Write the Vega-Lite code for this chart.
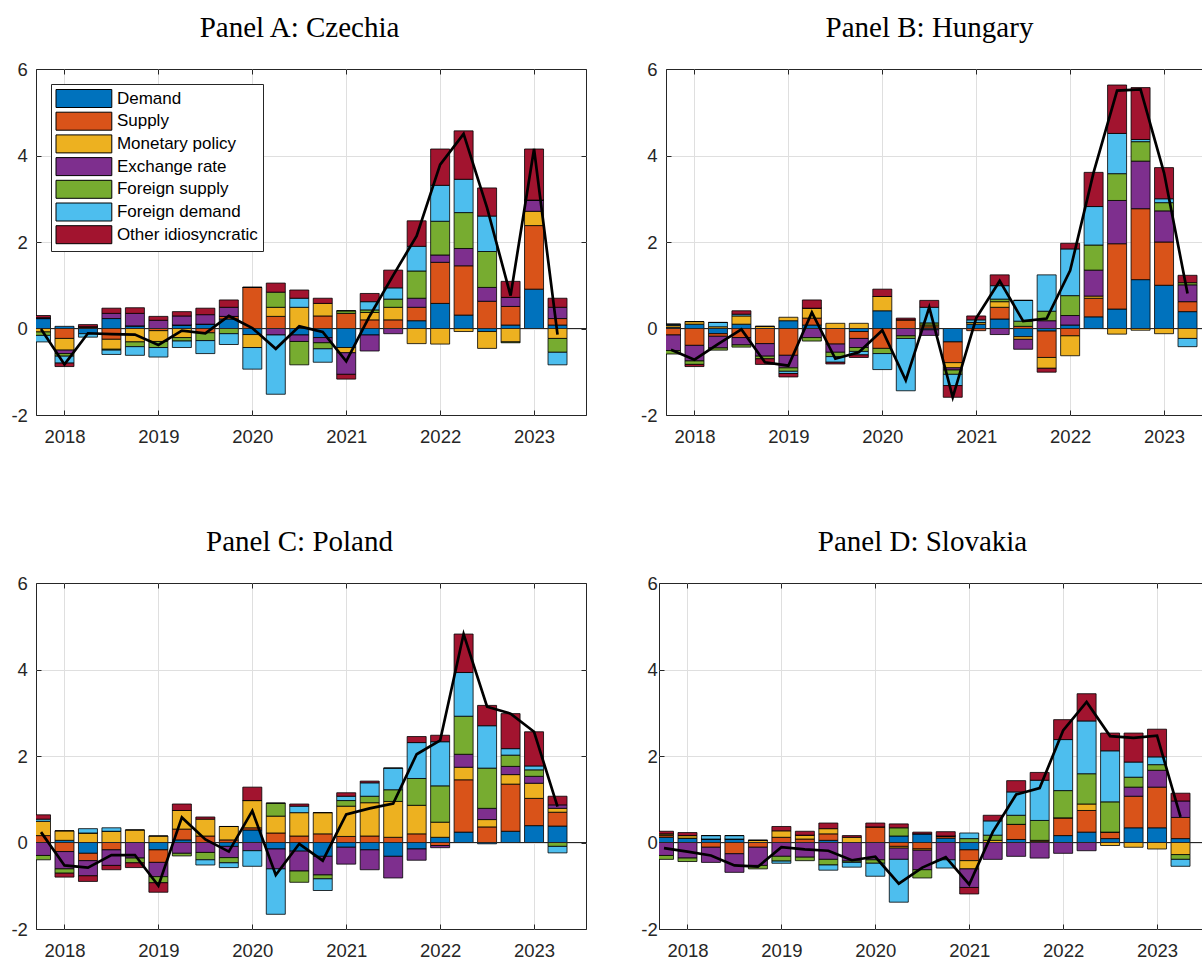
{
  "$schema": "https://vega.github.io/schema/vega-lite/v6.json",
  "padding": {"left": 10, "top": 13, "right": 0, "bottom": 0},
  "background": "white",
  "datasets": {
    "A": [
      {"t": 2017.75, "Demand": 0.23, "Supply": 0, "Monetary policy": -0.08, "Exchange rate": 0.02, "Foreign supply": -0.08, "Foreign demand": -0.15, "Other idiosyncratic": 0.05},
      {"t": 2018.0, "Demand": 0.05, "Supply": -0.23, "Monetary policy": -0.27, "Exchange rate": -0.08, "Foreign supply": -0.06, "Foreign demand": -0.16, "Other idiosyncratic": -0.08},
      {"t": 2018.25, "Demand": -0.12, "Supply": 0.04, "Monetary policy": 0, "Exchange rate": 0, "Foreign supply": 0, "Foreign demand": -0.08, "Other idiosyncratic": 0.05},
      {"t": 2018.5, "Demand": 0.23, "Supply": -0.25, "Monetary policy": -0.23, "Exchange rate": 0.12, "Foreign supply": -0.02, "Foreign demand": -0.1, "Other idiosyncratic": 0.12},
      {"t": 2018.75, "Demand": 0.06, "Supply": 0, "Monetary policy": -0.31, "Exchange rate": 0.29, "Foreign supply": -0.11, "Foreign demand": -0.2, "Other idiosyncratic": 0.13},
      {"t": 2019.0, "Demand": 0, "Supply": -0.05, "Monetary policy": -0.25, "Exchange rate": 0.19, "Foreign supply": -0.14, "Foreign demand": -0.22, "Other idiosyncratic": 0.09},
      {"t": 2019.25, "Demand": 0.08, "Supply": 0, "Monetary policy": -0.21, "Exchange rate": 0.21, "Foreign supply": -0.08, "Foreign demand": -0.15, "Other idiosyncratic": 0.1},
      {"t": 2019.5, "Demand": 0.1, "Supply": -0.1, "Monetary policy": 0, "Exchange rate": 0.22, "Foreign supply": -0.18, "Foreign demand": -0.3, "Other idiosyncratic": 0.15},
      {"t": 2019.75, "Demand": 0.22, "Supply": 0.06, "Monetary policy": 0, "Exchange rate": 0.21, "Foreign supply": -0.12, "Foreign demand": -0.25, "Other idiosyncratic": 0.17},
      {"t": 2020.0, "Demand": -0.14, "Supply": 0.95, "Monetary policy": -0.3, "Exchange rate": 0, "Foreign supply": 0, "Foreign demand": -0.5, "Other idiosyncratic": 0},
      {"t": 2020.25, "Demand": 0, "Supply": 0.28, "Monetary policy": 0.21, "Exchange rate": -0.15, "Foreign supply": 0.35, "Foreign demand": -1.37, "Other idiosyncratic": 0.21},
      {"t": 2020.5, "Demand": -0.15, "Supply": 0, "Monetary policy": 0.49, "Exchange rate": -0.15, "Foreign supply": -0.54, "Foreign demand": 0.21, "Other idiosyncratic": 0.19},
      {"t": 2020.75, "Demand": -0.21, "Supply": 0.29, "Monetary policy": 0.29, "Exchange rate": -0.12, "Foreign supply": -0.14, "Foreign demand": -0.31, "Other idiosyncratic": 0.12},
      {"t": 2021.0, "Demand": -0.44, "Supply": 0.35, "Monetary policy": -0.12, "Exchange rate": -0.5, "Foreign supply": 0.06, "Foreign demand": 0, "Other idiosyncratic": -0.11},
      {"t": 2021.25, "Demand": -0.15, "Supply": 0.2, "Monetary policy": 0.17, "Exchange rate": -0.37, "Foreign supply": 0.06, "Foreign demand": 0.19, "Other idiosyncratic": 0.19},
      {"t": 2021.5, "Demand": 0, "Supply": 0.2, "Monetary policy": 0.29, "Exchange rate": -0.12, "Foreign supply": 0.19, "Foreign demand": 0.26, "Other idiosyncratic": 0.41},
      {"t": 2021.75, "Demand": 0.18, "Supply": 0.31, "Monetary policy": -0.35, "Exchange rate": 0.21, "Foreign supply": 0.63, "Foreign demand": 0.57, "Other idiosyncratic": 0.59},
      {"t": 2022.0, "Demand": 0.58, "Supply": 0.95, "Monetary policy": -0.36, "Exchange rate": 0.17, "Foreign supply": 0.78, "Foreign demand": 0.83, "Other idiosyncratic": 0.84},
      {"t": 2022.25, "Demand": 0.31, "Supply": 1.14, "Monetary policy": -0.07, "Exchange rate": 0.4, "Foreign supply": 0.83, "Foreign demand": 0.77, "Other idiosyncratic": 1.12},
      {"t": 2022.5, "Demand": -0.07, "Supply": 0.63, "Monetary policy": -0.39, "Exchange rate": 0.32, "Foreign supply": 0.83, "Foreign demand": 0.82, "Other idiosyncratic": 0.65},
      {"t": 2022.75, "Demand": 0.08, "Supply": 0.43, "Monetary policy": -0.31, "Exchange rate": 0.21, "Foreign supply": -0.02, "Foreign demand": 0, "Other idiosyncratic": 0.37},
      {"t": 2023.0, "Demand": 0.91, "Supply": 1.47, "Monetary policy": 0.33, "Exchange rate": 0.26, "Foreign supply": 0, "Foreign demand": 0, "Other idiosyncratic": 1.18},
      {"t": 2023.25, "Demand": 0.08, "Supply": 0.15, "Monetary policy": -0.23, "Exchange rate": 0.26, "Foreign supply": -0.32, "Foreign demand": -0.29, "Other idiosyncratic": 0.21}
    ],
    "B": [
      {"t": 2017.75, "Demand": 0.03, "Supply": -0.15, "Monetary policy": 0.04, "Exchange rate": -0.36, "Foreign supply": -0.08, "Foreign demand": 0.03, "Other idiosyncratic": 0},
      {"t": 2018.0, "Demand": 0.1, "Supply": -0.39, "Monetary policy": 0.06, "Exchange rate": -0.36, "Foreign supply": -0.08, "Foreign demand": 0, "Other idiosyncratic": -0.05},
      {"t": 2018.25, "Demand": -0.12, "Supply": -0.06, "Monetary policy": 0.04, "Exchange rate": -0.27, "Foreign supply": -0.05, "Foreign demand": 0.1, "Other idiosyncratic": 0},
      {"t": 2018.5, "Demand": 0.1, "Supply": -0.21, "Monetary policy": 0.19, "Exchange rate": -0.17, "Foreign supply": -0.05, "Foreign demand": 0.04, "Other idiosyncratic": 0.08},
      {"t": 2018.75, "Demand": 0, "Supply": -0.35, "Monetary policy": 0.05, "Exchange rate": -0.29, "Foreign supply": -0.06, "Foreign demand": 0, "Other idiosyncratic": -0.13},
      {"t": 2019.0, "Demand": 0.18, "Supply": -0.62, "Monetary policy": 0.08, "Exchange rate": -0.29, "Foreign supply": -0.08, "Foreign demand": -0.05, "Other idiosyncratic": -0.08},
      {"t": 2019.25, "Demand": 0.08, "Supply": 0.16, "Monetary policy": 0.23, "Exchange rate": -0.21, "Foreign supply": -0.08, "Foreign demand": 0, "Other idiosyncratic": 0.19},
      {"t": 2019.5, "Demand": 0, "Supply": -0.36, "Monetary policy": 0.12, "Exchange rate": -0.19, "Foreign supply": -0.1, "Foreign demand": -0.13, "Other idiosyncratic": -0.04},
      {"t": 2019.75, "Demand": -0.07, "Supply": -0.16, "Monetary policy": 0.12, "Exchange rate": -0.21, "Foreign supply": -0.09, "Foreign demand": -0.08, "Other idiosyncratic": -0.06},
      {"t": 2020.0, "Demand": 0.41, "Supply": -0.46, "Monetary policy": 0.33, "Exchange rate": 0, "Foreign supply": -0.12, "Foreign demand": -0.37, "Other idiosyncratic": 0.17},
      {"t": 2020.25, "Demand": 0, "Supply": 0.2, "Monetary policy": 0, "Exchange rate": -0.17, "Foreign supply": -0.06, "Foreign demand": -1.21, "Other idiosyncratic": 0.04},
      {"t": 2020.5, "Demand": -0.03, "Supply": 0.04, "Monetary policy": 0.04, "Exchange rate": -0.13, "Foreign supply": 0.05, "Foreign demand": 0.36, "Other idiosyncratic": 0.16},
      {"t": 2020.75, "Demand": -0.31, "Supply": -0.48, "Monetary policy": -0.12, "Exchange rate": -0.05, "Foreign supply": -0.1, "Foreign demand": -0.26, "Other idiosyncratic": -0.27},
      {"t": 2021.0, "Demand": 0.1, "Supply": -0.05, "Monetary policy": 0.04, "Exchange rate": 0, "Foreign supply": 0, "Foreign demand": 0.06, "Other idiosyncratic": 0.09},
      {"t": 2021.25, "Demand": 0.22, "Supply": 0.27, "Monetary policy": 0.13, "Exchange rate": -0.14, "Foreign supply": 0.06, "Foreign demand": 0.31, "Other idiosyncratic": 0.25},
      {"t": 2021.5, "Demand": -0.19, "Supply": 0.05, "Monetary policy": -0.06, "Exchange rate": -0.23, "Foreign supply": 0.12, "Foreign demand": 0.48, "Other idiosyncratic": 0},
      {"t": 2021.75, "Demand": -0.06, "Supply": -0.61, "Monetary policy": -0.25, "Exchange rate": 0.18, "Foreign supply": 0.22, "Foreign demand": 0.84, "Other idiosyncratic": -0.09},
      {"t": 2022.0, "Demand": 0.08, "Supply": -0.17, "Monetary policy": -0.46, "Exchange rate": 0.22, "Foreign supply": 0.46, "Foreign demand": 1.08, "Other idiosyncratic": 0.13},
      {"t": 2022.25, "Demand": 0.27, "Supply": 0.43, "Monetary policy": 0.05, "Exchange rate": 0.6, "Foreign supply": 0.58, "Foreign demand": 0.89, "Other idiosyncratic": 0.79},
      {"t": 2022.5, "Demand": 0.45, "Supply": 1.51, "Monetary policy": -0.13, "Exchange rate": 1.0, "Foreign supply": 0.62, "Foreign demand": 0.93, "Other idiosyncratic": 1.12},
      {"t": 2022.75, "Demand": 1.13, "Supply": 1.64, "Monetary policy": -0.04, "Exchange rate": 1.1, "Foreign supply": 0.45, "Foreign demand": 0.05, "Other idiosyncratic": 1.2},
      {"t": 2023.0, "Demand": 1.0, "Supply": 1.0, "Monetary policy": -0.12, "Exchange rate": 0.72, "Foreign supply": 0.19, "Foreign demand": 0.09, "Other idiosyncratic": 0.72},
      {"t": 2023.25, "Demand": 0.39, "Supply": 0.23, "Monetary policy": -0.23, "Exchange rate": 0.39, "Foreign supply": 0.05, "Foreign demand": -0.19, "Other idiosyncratic": 0.17}
    ],
    "C": [
      {"t": 2017.75, "Demand": 0, "Supply": 0.16, "Monetary policy": 0.33, "Exchange rate": -0.3, "Foreign supply": -0.1, "Foreign demand": 0.05, "Other idiosyncratic": 0.1},
      {"t": 2018.0, "Demand": 0.05, "Supply": -0.21, "Monetary policy": 0.22, "Exchange rate": -0.4, "Foreign supply": -0.1, "Foreign demand": 0, "Other idiosyncratic": -0.09},
      {"t": 2018.25, "Demand": -0.25, "Supply": -0.17, "Monetary policy": 0.22, "Exchange rate": -0.35, "Foreign supply": 0, "Foreign demand": 0.1, "Other idiosyncratic": -0.13},
      {"t": 2018.5, "Demand": 0, "Supply": -0.17, "Monetary policy": 0.26, "Exchange rate": -0.36, "Foreign supply": 0, "Foreign demand": 0.08, "Other idiosyncratic": -0.1},
      {"t": 2018.75, "Demand": 0, "Supply": 0, "Monetary policy": 0.29, "Exchange rate": -0.36, "Foreign supply": -0.11, "Foreign demand": 0, "Other idiosyncratic": -0.11},
      {"t": 2019.0, "Demand": -0.17, "Supply": -0.29, "Monetary policy": 0.15, "Exchange rate": -0.33, "Foreign supply": -0.14, "Foreign demand": 0, "Other idiosyncratic": -0.22},
      {"t": 2019.25, "Demand": 0.06, "Supply": 0.25, "Monetary policy": 0.43, "Exchange rate": -0.25, "Foreign supply": -0.06, "Foreign demand": 0, "Other idiosyncratic": 0.15},
      {"t": 2019.5, "Demand": 0, "Supply": 0.15, "Monetary policy": 0.39, "Exchange rate": -0.23, "Foreign supply": -0.17, "Foreign demand": -0.12, "Other idiosyncratic": 0.05},
      {"t": 2019.75, "Demand": -0.09, "Supply": 0.06, "Monetary policy": 0.31, "Exchange rate": -0.26, "Foreign supply": -0.12, "Foreign demand": -0.11, "Other idiosyncratic": 0},
      {"t": 2020.0, "Demand": 0.29, "Supply": 0.05, "Monetary policy": 0.63, "Exchange rate": -0.19, "Foreign supply": 0, "Foreign demand": -0.36, "Other idiosyncratic": 0.31},
      {"t": 2020.25, "Demand": -0.15, "Supply": 0.22, "Monetary policy": 0.39, "Exchange rate": -0.46, "Foreign supply": 0.3, "Foreign demand": -1.05, "Other idiosyncratic": 0},
      {"t": 2020.5, "Demand": -0.2, "Supply": 0.15, "Monetary policy": 0.54, "Exchange rate": -0.46, "Foreign supply": -0.26, "Foreign demand": 0.15, "Other idiosyncratic": 0.05},
      {"t": 2020.75, "Demand": -0.32, "Supply": 0.2, "Monetary policy": 0.49, "Exchange rate": -0.43, "Foreign supply": -0.09, "Foreign demand": -0.27, "Other idiosyncratic": 0},
      {"t": 2021.0, "Demand": -0.11, "Supply": 0.14, "Monetary policy": 0.7, "Exchange rate": -0.39, "Foreign supply": 0.13, "Foreign demand": 0.1, "Other idiosyncratic": 0.08},
      {"t": 2021.25, "Demand": -0.17, "Supply": 0.15, "Monetary policy": 0.77, "Exchange rate": -0.46, "Foreign supply": 0.15, "Foreign demand": 0.31, "Other idiosyncratic": 0.04},
      {"t": 2021.5, "Demand": -0.32, "Supply": 0.12, "Monetary policy": 0.83, "Exchange rate": -0.5, "Foreign supply": 0.27, "Foreign demand": 0.5, "Other idiosyncratic": 0},
      {"t": 2021.75, "Demand": -0.15, "Supply": 0.2, "Monetary policy": 0.66, "Exchange rate": -0.26, "Foreign supply": 0.62, "Foreign demand": 0.83, "Other idiosyncratic": 0.14},
      {"t": 2022.0, "Demand": 0.12, "Supply": -0.07, "Monetary policy": 0.35, "Exchange rate": -0.05, "Foreign supply": 0.84, "Foreign demand": 1.02, "Other idiosyncratic": 0.15},
      {"t": 2022.25, "Demand": 0.24, "Supply": 1.21, "Monetary policy": 0.29, "Exchange rate": 0.3, "Foreign supply": 0.88, "Foreign demand": 1.01, "Other idiosyncratic": 0.89},
      {"t": 2022.5, "Demand": -0.03, "Supply": 0.36, "Monetary policy": 0.17, "Exchange rate": 0.26, "Foreign supply": 0.93, "Foreign demand": 0.98, "Other idiosyncratic": 0.47},
      {"t": 2022.75, "Demand": 0.26, "Supply": 1.09, "Monetary policy": 0.22, "Exchange rate": 0.19, "Foreign supply": 0.26, "Foreign demand": 0.15, "Other idiosyncratic": 0.81},
      {"t": 2023.0, "Demand": 0.39, "Supply": 0.63, "Monetary policy": 0.35, "Exchange rate": 0.16, "Foreign supply": 0.15, "Foreign demand": 0.09, "Other idiosyncratic": 0.79},
      {"t": 2023.25, "Demand": 0.38, "Supply": 0.32, "Monetary policy": 0.09, "Exchange rate": 0.08, "Foreign supply": -0.09, "Foreign demand": -0.15, "Other idiosyncratic": 0.2}
    ],
    "D": [
      {"t": 2017.75, "Demand": 0.12, "Supply": 0.04, "Monetary policy": 0.04, "Exchange rate": -0.3, "Foreign supply": -0.09, "Foreign demand": 0, "Other idiosyncratic": 0.06},
      {"t": 2018.0, "Demand": 0.1, "Supply": 0, "Monetary policy": 0.06, "Exchange rate": -0.36, "Foreign supply": -0.08, "Foreign demand": 0, "Other idiosyncratic": 0.07},
      {"t": 2018.25, "Demand": 0.08, "Supply": -0.11, "Monetary policy": 0, "Exchange rate": -0.35, "Foreign supply": 0, "Foreign demand": 0.08, "Other idiosyncratic": 0},
      {"t": 2018.5, "Demand": 0.08, "Supply": -0.26, "Monetary policy": 0, "Exchange rate": -0.43, "Foreign supply": 0, "Foreign demand": 0.08, "Other idiosyncratic": 0},
      {"t": 2018.75, "Demand": 0, "Supply": -0.11, "Monetary policy": 0.05, "Exchange rate": -0.42, "Foreign supply": -0.08, "Foreign demand": 0, "Other idiosyncratic": 0},
      {"t": 2019.0, "Demand": 0, "Supply": 0.12, "Monetary policy": 0.15, "Exchange rate": -0.32, "Foreign supply": -0.11, "Foreign demand": -0.05, "Other idiosyncratic": 0.1},
      {"t": 2019.25, "Demand": 0, "Supply": 0.08, "Monetary policy": 0.09, "Exchange rate": -0.34, "Foreign supply": -0.08, "Foreign demand": 0, "Other idiosyncratic": 0.09},
      {"t": 2019.5, "Demand": 0.05, "Supply": 0.15, "Monetary policy": 0.12, "Exchange rate": -0.39, "Foreign supply": -0.13, "Foreign demand": -0.12, "Other idiosyncratic": 0.13},
      {"t": 2019.75, "Demand": 0, "Supply": 0, "Monetary policy": 0.12, "Exchange rate": -0.43, "Foreign supply": -0.03, "Foreign demand": -0.11, "Other idiosyncratic": 0.04},
      {"t": 2020.0, "Demand": 0, "Supply": 0.36, "Monetary policy": 0, "Exchange rate": -0.4, "Foreign supply": -0.08, "Foreign demand": -0.3, "Other idiosyncratic": 0.09},
      {"t": 2020.25, "Demand": 0.15, "Supply": -0.09, "Monetary policy": -0.04, "Exchange rate": -0.26, "Foreign supply": 0.19, "Foreign demand": -0.99, "Other idiosyncratic": 0.09},
      {"t": 2020.5, "Demand": 0.2, "Supply": -0.15, "Monetary policy": -0.03, "Exchange rate": -0.45, "Foreign supply": -0.19, "Foreign demand": 0, "Other idiosyncratic": 0.04},
      {"t": 2020.75, "Demand": 0.1, "Supply": 0.05, "Monetary policy": 0, "Exchange rate": -0.4, "Foreign supply": 0, "Foreign demand": -0.19, "Other idiosyncratic": 0.1},
      {"t": 2021.0, "Demand": -0.17, "Supply": -0.25, "Monetary policy": -0.19, "Exchange rate": -0.43, "Foreign supply": 0.09, "Foreign demand": 0.13, "Other idiosyncratic": -0.15},
      {"t": 2021.25, "Demand": 0, "Supply": 0, "Monetary policy": 0.05, "Exchange rate": -0.39, "Foreign supply": 0.12, "Foreign demand": 0.33, "Other idiosyncratic": 0.13},
      {"t": 2021.5, "Demand": 0.07, "Supply": 0.35, "Monetary policy": 0, "Exchange rate": -0.32, "Foreign supply": 0.21, "Foreign demand": 0.54, "Other idiosyncratic": 0.26},
      {"t": 2021.75, "Demand": 0, "Supply": 0.03, "Monetary policy": 0.02, "Exchange rate": -0.36, "Foreign supply": 0.46, "Foreign demand": 0.93, "Other idiosyncratic": 0.18},
      {"t": 2022.0, "Demand": 0.16, "Supply": 0.41, "Monetary policy": 0, "Exchange rate": -0.25, "Foreign supply": 0.63, "Foreign demand": 1.18, "Other idiosyncratic": 0.46},
      {"t": 2022.25, "Demand": 0.24, "Supply": 0.5, "Monetary policy": 0.15, "Exchange rate": -0.19, "Foreign supply": 0.7, "Foreign demand": 1.22, "Other idiosyncratic": 0.63},
      {"t": 2022.5, "Demand": 0.09, "Supply": 0.15, "Monetary policy": -0.07, "Exchange rate": 0, "Foreign supply": 0.7, "Foreign demand": 1.18, "Other idiosyncratic": 0.41},
      {"t": 2022.75, "Demand": 0.34, "Supply": 0.73, "Monetary policy": -0.11, "Exchange rate": 0.21, "Foreign supply": 0.23, "Foreign demand": 0.35, "Other idiosyncratic": 0.67},
      {"t": 2023.0, "Demand": 0.34, "Supply": 0.94, "Monetary policy": -0.15, "Exchange rate": 0.39, "Foreign supply": 0.13, "Foreign demand": 0.18, "Other idiosyncratic": 0.64},
      {"t": 2023.25, "Demand": 0.09, "Supply": 0.49, "Monetary policy": -0.28, "Exchange rate": 0.38, "Foreign supply": -0.11, "Foreign demand": -0.16, "Other idiosyncratic": 0.18}
    ]
  },
  "spacing": 80,
  "resolve": {"scale": {"color": "independent"}, "legend": {"color": "independent"}},
  "vconcat": [
    {
      "spacing": 53,
      "resolve": {"scale": {"color": "independent"}, "legend": {"color": "independent"}},
      "hconcat": [
        {
          "title": {"text": "Panel A: Czechia", "font": "Liberation Serif", "fontSize": 29, "fontWeight": "normal", "color": "black", "baseline": "alphabetic", "offset": -5.7, "frame": "group", "dx": -11.5},
          "width": 550, "height": 346,
          "data": {"name": "A"},
          "transform": [
            {"fold": ["Demand", "Supply", "Monetary policy", "Exchange rate", "Foreign supply", "Foreign demand", "Other idiosyncratic"], "as": ["c", "v"]},
            {"calculate": "indexof(['Demand','Supply','Monetary policy','Exchange rate','Foreign supply','Foreign demand','Other idiosyncratic'], datum.c)", "as": "k"}
          ],
          "resolve": {"axis": {"x": "independent", "y": "independent"}},
          "layer": [
            {
              "mark": {"type": "bar", "size": 19, "stroke": "black", "strokeWidth": 0.8, "clip": true},
              "encoding": {
                "x": {"field": "t", "type": "quantitative", "scale": {"domain": [2017.75, 2023.5], "nice": false, "zero": false},
                      "axis": {"orient": "bottom", "title": null, "values": [2018, 2019, 2020, 2021, 2022, 2023], "labelExpr": "''+datum.value", "grid": true, "tickSize": -5, "labelPadding": 17.6, "domain": false}},
                "y": {"field": "v", "type": "quantitative", "stack": "zero", "scale": {"domain": [-2, 6], "nice": false, "zero": false},
                      "axis": {"orient": "left", "title": null, "values": [-2, 0, 2, 4, 6], "labelExpr": "''+datum.value", "grid": true, "gridOpacity": {"condition": {"test": "datum.value < -1 || datum.value > 5", "value": 0}, "value": 1}, "tickSize": -5, "labelPadding": 13.6, "domain": false}},
                "color": {"field": "c", "type": "nominal",
                          "scale": {"domain": ["Demand", "Supply", "Monetary policy", "Exchange rate", "Foreign supply", "Foreign demand", "Other idiosyncratic"], "range": ["#0072BD", "#D95319", "#EDB120", "#7E2F8E", "#77AC30", "#4DBEEE", "#A2142F"]},
                          "legend": {"title": null, "orient": "top-left", "offset": 15, "symbolType": "M-3.1,-1H3.1V1H-3.1Z", "symbolSize": 324, "symbolStrokeColor": "black", "symbolStrokeWidth": 1, "symbolOpacity": 1, "symbolOffset": 18.4, "labelOffset": 23.5, "labelFont": "Liberation Sans", "labelFontSize": 17, "labelColor": "black", "labelLimit": 300, "fillColor": "white", "strokeColor": "#262626", "padding": 5, "rowPadding": -0.3}},
                "order": {"field": "k", "type": "quantitative"}
              }
            },
            {"mark": {"type": "rule", "color": "#262626", "strokeWidth": 1}, "encoding": {"y": {"datum": 0, "type": "quantitative", "axis": null}}},
            {
              "transform": [{"aggregate": [{"op": "sum", "field": "v", "as": "total"}], "groupby": ["t"]}],
              "mark": {"type": "line", "color": "black", "strokeWidth": 2.7, "clip": true},
              "encoding": {
                "x": {"field": "t", "type": "quantitative", "scale": {"domain": [2017.75, 2023.5], "nice": false, "zero": false},
                      "axis": {"orient": "top", "title": null, "labels": false, "grid": false, "values": [2018, 2019, 2020, 2021, 2022, 2023], "tickSize": -5, "domain": false}},
                "y": {"field": "total", "type": "quantitative", "scale": {"domain": [-2, 6], "nice": false, "zero": false},
                      "axis": {"orient": "right", "title": null, "labels": false, "grid": false, "values": [-2, 0, 2, 4, 6], "tickSize": -5, "domain": false}}
              }
            }
          ]
        },
        {
          "title": {"text": "Panel B: Hungary", "font": "Liberation Serif", "fontSize": 29, "fontWeight": "normal", "color": "black", "baseline": "alphabetic", "offset": -5.7, "frame": "group", "dx": -11.5},
          "width": 550, "height": 346,
          "data": {"name": "B"},
          "transform": [
            {"fold": ["Demand", "Supply", "Monetary policy", "Exchange rate", "Foreign supply", "Foreign demand", "Other idiosyncratic"], "as": ["c", "v"]},
            {"calculate": "indexof(['Demand','Supply','Monetary policy','Exchange rate','Foreign supply','Foreign demand','Other idiosyncratic'], datum.c)", "as": "k"}
          ],
          "resolve": {"axis": {"x": "independent", "y": "independent"}},
          "layer": [
            {
              "mark": {"type": "bar", "size": 19, "stroke": "black", "strokeWidth": 0.8, "clip": true},
              "encoding": {
                "x": {"field": "t", "type": "quantitative", "scale": {"domain": [2017.75, 2023.5], "nice": false, "zero": false},
                      "axis": {"orient": "bottom", "title": null, "values": [2018, 2019, 2020, 2021, 2022, 2023], "labelExpr": "''+datum.value", "grid": true, "tickSize": -5, "labelPadding": 17.6, "domain": false}},
                "y": {"field": "v", "type": "quantitative", "stack": "zero", "scale": {"domain": [-2, 6], "nice": false, "zero": false},
                      "axis": {"orient": "left", "title": null, "values": [-2, 0, 2, 4, 6], "labelExpr": "''+datum.value", "grid": true, "gridOpacity": {"condition": {"test": "datum.value < -1 || datum.value > 5", "value": 0}, "value": 1}, "tickSize": -5, "labelPadding": 14, "domain": false}},
                "color": {"field": "c", "type": "nominal",
                          "scale": {"domain": ["Demand", "Supply", "Monetary policy", "Exchange rate", "Foreign supply", "Foreign demand", "Other idiosyncratic"], "range": ["#0072BD", "#D95319", "#EDB120", "#7E2F8E", "#77AC30", "#4DBEEE", "#A2142F"]},
                          "legend": null},
                "order": {"field": "k", "type": "quantitative"}
              }
            },
            {"mark": {"type": "rule", "color": "#262626", "strokeWidth": 1}, "encoding": {"y": {"datum": 0, "type": "quantitative", "axis": null}}},
            {
              "transform": [{"aggregate": [{"op": "sum", "field": "v", "as": "total"}], "groupby": ["t"]}],
              "mark": {"type": "line", "color": "black", "strokeWidth": 2.7, "clip": true},
              "encoding": {
                "x": {"field": "t", "type": "quantitative", "scale": {"domain": [2017.75, 2023.5], "nice": false, "zero": false},
                      "axis": {"orient": "top", "title": null, "labels": false, "grid": false, "values": [2018, 2019, 2020, 2021, 2022, 2023], "tickSize": -5, "domain": false}},
                "y": {"field": "total", "type": "quantitative", "scale": {"domain": [-2, 6], "nice": false, "zero": false},
                      "axis": {"orient": "right", "title": null, "labels": false, "grid": false, "values": [-2, 0, 2, 4, 6], "tickSize": -5, "domain": false}}
              }
            }
          ]
        }
      ]
    },
    {
      "spacing": 53,
      "resolve": {"scale": {"color": "independent"}, "legend": {"color": "independent"}},
      "hconcat": [
        {
          "title": {"text": "Panel C: Poland", "font": "Liberation Serif", "fontSize": 29, "fontWeight": "normal", "color": "black", "baseline": "alphabetic", "offset": -5.7, "frame": "group", "dx": -11.5},
          "width": 550, "height": 346,
          "data": {"name": "C"},
          "transform": [
            {"fold": ["Demand", "Supply", "Monetary policy", "Exchange rate", "Foreign supply", "Foreign demand", "Other idiosyncratic"], "as": ["c", "v"]},
            {"calculate": "indexof(['Demand','Supply','Monetary policy','Exchange rate','Foreign supply','Foreign demand','Other idiosyncratic'], datum.c)", "as": "k"}
          ],
          "resolve": {"axis": {"x": "independent", "y": "independent"}},
          "layer": [
            {
              "mark": {"type": "bar", "size": 19, "stroke": "black", "strokeWidth": 0.8, "clip": true},
              "encoding": {
                "x": {"field": "t", "type": "quantitative", "scale": {"domain": [2017.75, 2023.5], "nice": false, "zero": false},
                      "axis": {"orient": "bottom", "title": null, "values": [2018, 2019, 2020, 2021, 2022, 2023], "labelExpr": "''+datum.value", "grid": true, "tickSize": -5, "labelPadding": 17.6, "domain": false}},
                "y": {"field": "v", "type": "quantitative", "stack": "zero", "scale": {"domain": [-2, 6], "nice": false, "zero": false},
                      "axis": {"orient": "left", "title": null, "values": [-2, 0, 2, 4, 6], "labelExpr": "''+datum.value", "grid": true, "gridOpacity": {"condition": {"test": "datum.value < -1 || datum.value > 5", "value": 0}, "value": 1}, "tickSize": -5, "labelPadding": 13.6, "domain": false}},
                "color": {"field": "c", "type": "nominal",
                          "scale": {"domain": ["Demand", "Supply", "Monetary policy", "Exchange rate", "Foreign supply", "Foreign demand", "Other idiosyncratic"], "range": ["#0072BD", "#D95319", "#EDB120", "#7E2F8E", "#77AC30", "#4DBEEE", "#A2142F"]},
                          "legend": null},
                "order": {"field": "k", "type": "quantitative"}
              }
            },
            {"mark": {"type": "rule", "color": "#262626", "strokeWidth": 1}, "encoding": {"y": {"datum": 0, "type": "quantitative", "axis": null}}},
            {
              "transform": [{"aggregate": [{"op": "sum", "field": "v", "as": "total"}], "groupby": ["t"]}],
              "mark": {"type": "line", "color": "black", "strokeWidth": 2.7, "clip": true},
              "encoding": {
                "x": {"field": "t", "type": "quantitative", "scale": {"domain": [2017.75, 2023.5], "nice": false, "zero": false},
                      "axis": {"orient": "top", "title": null, "labels": false, "grid": false, "values": [2018, 2019, 2020, 2021, 2022, 2023], "tickSize": -5, "domain": false}},
                "y": {"field": "total", "type": "quantitative", "scale": {"domain": [-2, 6], "nice": false, "zero": false},
                      "axis": {"orient": "right", "title": null, "labels": false, "grid": false, "values": [-2, 0, 2, 4, 6], "tickSize": -5, "domain": false}}
              }
            }
          ]
        },
        {
          "title": {"text": "Panel D: Slovakia", "font": "Liberation Serif", "fontSize": 29, "fontWeight": "normal", "color": "black", "baseline": "alphabetic", "offset": -5.7, "frame": "group", "dx": -11.5},
          "width": 550, "height": 346,
          "data": {"name": "D"},
          "transform": [
            {"fold": ["Demand", "Supply", "Monetary policy", "Exchange rate", "Foreign supply", "Foreign demand", "Other idiosyncratic"], "as": ["c", "v"]},
            {"calculate": "indexof(['Demand','Supply','Monetary policy','Exchange rate','Foreign supply','Foreign demand','Other idiosyncratic'], datum.c)", "as": "k"}
          ],
          "resolve": {"axis": {"x": "independent", "y": "independent"}},
          "layer": [
            {
              "mark": {"type": "bar", "size": 19, "stroke": "black", "strokeWidth": 0.8, "clip": true},
              "encoding": {
                "x": {"field": "t", "type": "quantitative", "scale": {"domain": [2017.75, 2023.5], "nice": false, "zero": false},
                      "axis": {"orient": "bottom", "title": null, "values": [2018, 2019, 2020, 2021, 2022, 2023], "labelExpr": "''+datum.value", "grid": true, "tickSize": -5, "labelPadding": 17.6, "domain": false}},
                "y": {"field": "v", "type": "quantitative", "stack": "zero", "scale": {"domain": [-2, 6], "nice": false, "zero": false},
                      "axis": {"orient": "left", "title": null, "values": [-2, 0, 2, 4, 6], "labelExpr": "''+datum.value", "grid": true, "gridOpacity": {"condition": {"test": "datum.value < -1 || datum.value > 5", "value": 0}, "value": 1}, "tickSize": -5, "labelPadding": 6.7, "domain": false}},
                "color": {"field": "c", "type": "nominal",
                          "scale": {"domain": ["Demand", "Supply", "Monetary policy", "Exchange rate", "Foreign supply", "Foreign demand", "Other idiosyncratic"], "range": ["#0072BD", "#D95319", "#EDB120", "#7E2F8E", "#77AC30", "#4DBEEE", "#A2142F"]},
                          "legend": null},
                "order": {"field": "k", "type": "quantitative"}
              }
            },
            {"mark": {"type": "rule", "color": "#262626", "strokeWidth": 1}, "encoding": {"y": {"datum": 0, "type": "quantitative", "axis": null}}},
            {
              "transform": [{"aggregate": [{"op": "sum", "field": "v", "as": "total"}], "groupby": ["t"]}],
              "mark": {"type": "line", "color": "black", "strokeWidth": 2.7, "clip": true},
              "encoding": {
                "x": {"field": "t", "type": "quantitative", "scale": {"domain": [2017.75, 2023.5], "nice": false, "zero": false},
                      "axis": {"orient": "top", "title": null, "labels": false, "grid": false, "values": [2018, 2019, 2020, 2021, 2022, 2023], "tickSize": -5, "domain": false}},
                "y": {"field": "total", "type": "quantitative", "scale": {"domain": [-2, 6], "nice": false, "zero": false},
                      "axis": {"orient": "right", "title": null, "labels": false, "grid": false, "values": [-2, 0, 2, 4, 6], "tickSize": -5, "domain": false}}
              }
            }
          ]
        }
      ]
    }
  ],
  "config": {
    "view": {"stroke": "#262626", "strokeWidth": 1},
    "axis": {"labelFont": "Liberation Sans", "labelFontSize": 18.5, "labelColor": "#262626", "tickColor": "#262626", "tickWidth": 1, "gridColor": "#dfdfdf", "gridWidth": 1}
  }
}
